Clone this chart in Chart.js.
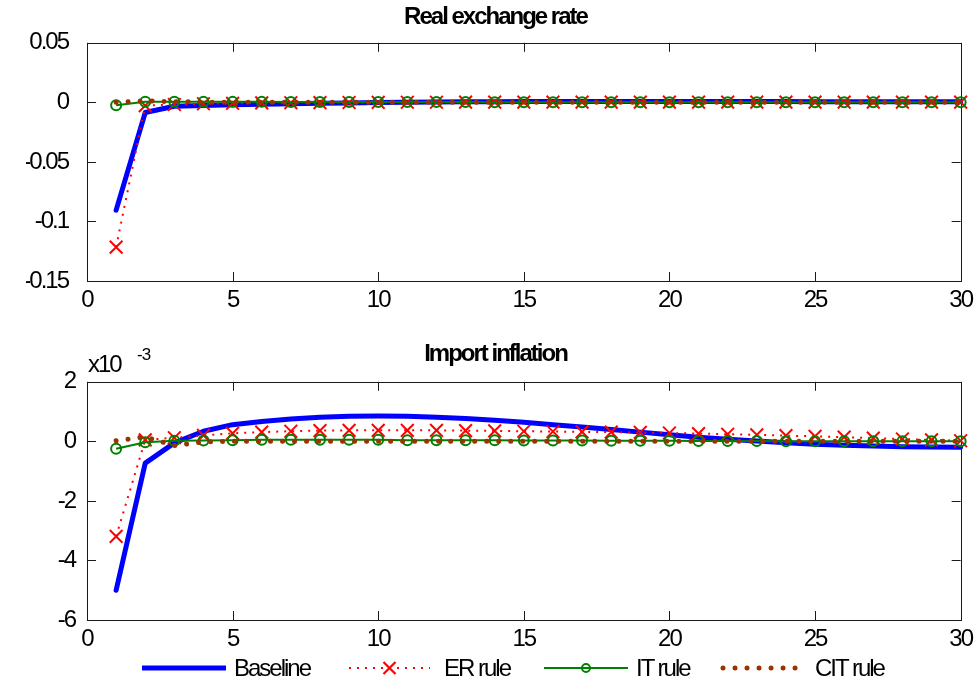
<!DOCTYPE html>
<html>
<head>
<meta charset="utf-8">
<script src="https://cdn.jsdelivr.net/npm/chart.js@4.4.0/dist/chart.umd.min.js"></script>
<style>
  html, body { margin: 0; padding: 0; background: #ffffff; }
  #wrap { position: relative; width: 977px; height: 689px; overflow: hidden; background: #fff; }
  .box { position: absolute; left: 0; width: 977px; height: 330px; }
  #box1 { top: 0; }
  #box2 { top: 330px; }
  .txt { position: absolute; font-family: 'Liberation Sans', Arial, sans-serif; color: #000; white-space: nowrap; letter-spacing: -2px; }
  #legend { position: absolute; left: 0; top: 650px; width: 977px; height: 36px; }
</style>
</head>
<body>
<div id="wrap">
  <div class="box" id="box1"><canvas id="c1" width="977" height="330"></canvas></div>
  <div class="box" id="box2"><canvas id="c2" width="977" height="330"></canvas></div>
  <div class="txt" id="expBase" style="left:88px; top:352px; font-size:24px; line-height:24px;">x10</div>
  <div class="txt" id="expSup" style="left:137px; top:346px; font-size:17px; line-height:17px; letter-spacing:-1px;">-3</div>
  <svg id="legend" width="977" height="36"></svg>
  <div id="legendText"></div>
</div>
<script>
// ---------------- DATA ----------------
const periods = [1,2,3,4,5,6,7,8,9,10,11,12,13,14,15,16,17,18,19,20,21,22,23,24,25,26,27,28,29,30];
const seriesNames = ['Baseline', 'ER rule', 'IT rule', 'CIT rule'];
const titles = ['Real exchange rate', 'Import inflation'];

// Real exchange rate
const rerBaseline = [-0.0905, -0.0085, -0.0033, -0.0026, -0.0021, -0.0016, -0.0012, -0.0008, -0.0005, -0.0002,
                     0.0001, 0.0003, 0.0005, 0.0006, 0.0007, 0.0008, 0.0008, 0.0008, 0.0008, 0.0008,
                     0.0008, 0.0007, 0.0007, 0.0007, 0.0006, 0.0006, 0.0006, 0.0005, 0.0005, 0.0005];
const rerER       = [-0.1215, -0.0028, -0.0018, -0.0012, -0.0008, -0.0005, -0.0003, -0.0002, -0.0001, 0.0000,
                     0.0001, 0.0001, 0.0002, 0.0002, 0.0002, 0.0002, 0.0002, 0.0002, 0.0002, 0.0002,
                     0.0002, 0.0002, 0.0002, 0.0002, 0.0002, 0.0002, 0.0002, 0.0002, 0.0002, 0.0002];
const rerIT       = [-0.0024, 0.0005, 0.0006, 0.0005, 0.0004, 0.0004, 0.0003, 0.0003, 0.0003, 0.0002,
                     0.0002, 0.0002, 0.0002, 0.0001, 0.0001, 0.0001, 0.0001, 0.0001, 0.0001, 0.0001,
                     0.0001, 0.0001, 0.0000, 0.0000, 0.0000, 0.0000, 0.0000, 0.0000, 0.0000, 0.0000];
const rerCIT      = [0.0000, 0.0012, 0.0006, 0.0002, 0.0001, 0.0000, 0.0000, 0.0000, 0.0000, 0.0000,
                     0.0000, 0.0000, 0.0000, 0.0000, 0.0000, 0.0000, 0.0000, 0.0000, 0.0000, 0.0000,
                     0.0000, 0.0000, 0.0000, 0.0000, 0.0000, 0.0000, 0.0000, 0.0000, 0.0000, 0.0000];

// Import inflation (in units of 1e-3)
const impBaseline = [-5.00, -0.73, -0.05, 0.34, 0.56, 0.67, 0.75, 0.81, 0.84, 0.85,
                     0.84, 0.81, 0.77, 0.71, 0.64, 0.56, 0.48, 0.40, 0.31, 0.22,
                     0.14, 0.07, 0.01, -0.05, -0.10, -0.13, -0.16, -0.18, -0.19, -0.20];
const impER       = [-3.19, 0.05, 0.12, 0.20, 0.27, 0.31, 0.34, 0.36, 0.37, 0.37,
                     0.37, 0.37, 0.36, 0.35, 0.34, 0.33, 0.32, 0.31, 0.30, 0.28,
                     0.26, 0.24, 0.22, 0.19, 0.17, 0.14, 0.11, 0.08, 0.05, 0.02];
const impIT       = [-0.25, -0.03, 0.02, 0.03, 0.04, 0.05, 0.05, 0.05, 0.05, 0.05,
                     0.04, 0.04, 0.04, 0.04, 0.03, 0.03, 0.03, 0.02, 0.02, 0.02,
                     0.01, 0.01, 0.01, 0.00, 0.00, 0.00, 0.00, 0.00, 0.00, 0.00];
const impCIT      = [0.02, 0.15, -0.14, -0.02, 0.00, 0.00, 0.00, 0.00, 0.00, 0.00,
                     0.00, 0.00, 0.00, 0.00, 0.00, 0.00, 0.00, 0.00, 0.00, 0.00,
                     0.00, 0.00, 0.00, 0.00, 0.00, 0.00, 0.00, 0.00, 0.00, 0.00];

// Tick labels
const xTicks = [0, 5, 10, 15, 20, 25, 30];
const yTicksTop = [-0.15, -0.1, -0.05, 0, 0.05];
const yTicksBottom = [-6, -4, -2, 0, 2];

// ---------------- STYLE ----------------
const FAMILY = "'Liberation Sans', Arial, sans-serif";
const COLORS = { base: '#0000ff', er: '#ff0000', it: '#008000', cit: '#993300' };

function makeDatasets(b, e, i, c) {
  const pts = arr => periods.map((p, k) => ({ x: p, y: arr[k] }));
  return [
    { label: seriesNames[0], data: pts(b), borderColor: COLORS.base, backgroundColor: COLORS.base,
      borderWidth: 5, pointRadius: 0, order: 4, clip: false, borderJoinStyle: 'round', borderCapStyle: 'round' },
    { label: seriesNames[1], data: pts(e), borderColor: COLORS.er, backgroundColor: COLORS.er,
      borderWidth: 2, borderDash: [2, 6], pointStyle: 'crossRot', pointRadius: 9, pointBorderWidth: 2,
      pointBorderColor: COLORS.er, order: 3, clip: false },
    { label: seriesNames[2], data: pts(i), borderColor: COLORS.it, backgroundColor: 'rgba(0,0,0,0)',
      borderWidth: 2, pointStyle: 'circle', pointRadius: 5, pointBorderWidth: 2,
      pointBorderColor: COLORS.it, pointBackgroundColor: 'rgba(0,0,0,0)', order: 2, clip: false },
    { label: seriesNames[3], data: pts(c), borderColor: COLORS.cit, backgroundColor: COLORS.cit,
      borderWidth: 5, borderDash: [0.01, 12], borderCapStyle: 'round', pointRadius: 0, order: 1, clip: false }
  ];
}

const spacingPlugin = {
  id: 'condensed',
  beforeLayout(chart) { chart.ctx.letterSpacing = '-2px'; },
  beforeDraw(chart) { chart.ctx.letterSpacing = '-2px'; }
};

const boxPlugin = {
  id: 'matlabBox',
  beforeDatasetsDraw(chart) {
    const { ctx, chartArea: a, scales } = chart;
    ctx.save();
    ctx.strokeStyle = '#1a1a1a';
    ctx.lineWidth = 1;
    ctx.strokeRect(Math.round(a.left) + 0.5, Math.round(a.top) + 0.5,
                   Math.round(a.right - a.left), Math.round(a.bottom - a.top));
    const L = 9;
    ctx.beginPath();
    scales.x.ticks.forEach(t => {
      const px = Math.round(scales.x.getPixelForValue(t.value)) + 0.5;
      ctx.moveTo(px, a.bottom); ctx.lineTo(px, a.bottom - L);
      ctx.moveTo(px, a.top); ctx.lineTo(px, a.top + L);
    });
    scales.y.ticks.forEach(t => {
      const py = Math.round(scales.y.getPixelForValue(t.value)) + 0.5;
      ctx.moveTo(a.left, py); ctx.lineTo(a.left + L, py);
      ctx.moveTo(a.right, py); ctx.lineTo(a.right - L, py);
    });
    ctx.stroke();
    ctx.restore();
  }
};

function makeChart(canvasId, title, datasets, yTicks, yMin, yMax, cfg) {
  return new Chart(document.getElementById(canvasId), {
    type: 'line',
    data: { datasets },
    plugins: [spacingPlugin, boxPlugin],
    options: {
      responsive: false,
      animation: false,
      events: [],
      layout: { padding: { left: 26, right: 12, top: 0, bottom: 0 } },
      plugins: {
        legend: { display: false },
        tooltip: { enabled: false },
        title: {
          display: true, text: title, color: '#000',
          font: { family: FAMILY, size: 24, weight: 'bold', lineHeight: 1.2 },
          padding: { top: cfg.titleTop, bottom: cfg.titleBottom }
        }
      },
      scales: {
        x: {
          type: 'linear', min: 0, max: 30,
          grid: { display: false, drawTicks: false }, border: { display: false },
          afterBuildTicks: s => { s.ticks = xTicks.map(v => ({ value: v })); },
          afterFit: s => { s.height = cfg.xHeight; },
          ticks: { color: '#000', padding: cfg.xPad, maxRotation: 0, autoSkip: false,
                   font: { family: FAMILY, size: 24, lineHeight: 1.2 },
                   callback: v => String(v) }
        },
        y: {
          type: 'linear', min: yMin, max: yMax,
          grid: { display: false, drawTicks: false }, border: { display: false },
          afterBuildTicks: s => { s.ticks = yTicks.map(v => ({ value: v })); },
          afterFit: s => { s.width = 61; },
          ticks: { color: '#000', padding: cfg.yPad, autoSkip: false,
                   font: { family: FAMILY, size: 24, lineHeight: 1.2 },
                   callback: v => String(Math.round(v * 100) / 100) }
        }
      }
    }
  });
}

makeChart('c1', titles[0], makeDatasets(rerBaseline, rerER, rerIT, rerCIT),
          yTicksTop, -0.15, 0.05, { titleTop: 3, titleBottom: 11, xHeight: 49, xPad: 5, yPad: 19 });
makeChart('c2', titles[1], makeDatasets(impBaseline, impER, impIT, impCIT),
          yTicksBottom, -6, 2, { titleTop: 10, titleBottom: 13, xHeight: 40, xPad: 5, yPad: 12 });

// ---------------- LEGEND ----------------
(function buildLegend() {
  const svg = document.getElementById('legend');
  const NS = 'http://www.w3.org/2000/svg';
  const cy = 18;
  const items = [
    { x1: 142, x2: 226, tx: 234, color: COLORS.base, width: 5, dash: null, cap: 'butt', marker: null },
    { x1: 349, x2: 430, tx: 444, color: COLORS.er, width: 2, dash: '2,6', cap: 'butt', marker: 'x' },
    { x1: 544, x2: 628, tx: 636, color: COLORS.it, width: 2, dash: null, cap: 'butt', marker: 'o' },
    { x1: 723, x2: 798, tx: 815, color: COLORS.cit, width: 5, dash: '0.01,12', cap: 'round', marker: null }
  ];
  const textBox = document.getElementById('legendText');
  items.forEach((it, k) => {
    const ln = document.createElementNS(NS, 'line');
    ln.setAttribute('x1', it.x1); ln.setAttribute('x2', it.x2);
    ln.setAttribute('y1', cy); ln.setAttribute('y2', cy);
    ln.setAttribute('stroke', it.color); ln.setAttribute('stroke-width', it.width);
    ln.setAttribute('stroke-linecap', it.cap);
    if (it.dash) ln.setAttribute('stroke-dasharray', it.dash);
    svg.appendChild(ln);
    const mx = (it.x1 + it.x2) / 2;
    if (it.marker === 'x') {
      const p = document.createElementNS(NS, 'path');
      const r = 6;
      p.setAttribute('d', `M${mx - r},${cy - r}L${mx + r},${cy + r}M${mx - r},${cy + r}L${mx + r},${cy - r}`);
      p.setAttribute('stroke', it.color); p.setAttribute('stroke-width', 2.2); p.setAttribute('fill', 'none');
      svg.appendChild(p);
    } else if (it.marker === 'o') {
      const c = document.createElementNS(NS, 'circle');
      c.setAttribute('cx', mx); c.setAttribute('cy', cy); c.setAttribute('r', 4);
      c.setAttribute('stroke', it.color); c.setAttribute('stroke-width', 2); c.setAttribute('fill', 'none');
      svg.appendChild(c);
    }
    const d = document.createElement('div');
    d.className = 'txt';
    d.style.left = it.tx + 'px';
    d.style.top = '656px';
    d.style.fontSize = '24px';
    d.style.lineHeight = '24px';
    d.textContent = seriesNames[k];
    textBox.appendChild(d);
  });
})();
</script>
</body>
</html>
